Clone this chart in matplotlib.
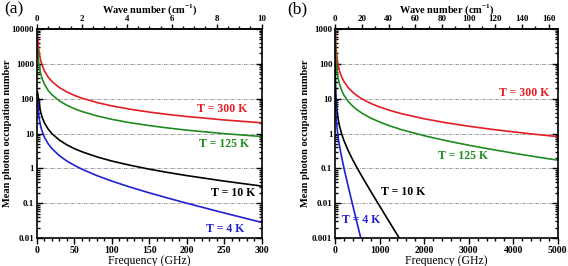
import matplotlib
matplotlib.use('Agg')
import matplotlib.pyplot as plt
from matplotlib.ticker import MultipleLocator, LogLocator, NullFormatter

plt.rcParams['font.family'] = ['Liberation Serif', 'DejaVu Serif']
plt.rcParams['mathtext.fontset'] = 'custom'
plt.rcParams['mathtext.rm'] = 'Liberation Serif:bold'
plt.rcParams['mathtext.bf'] = 'Liberation Serif:bold'

# panel (a): frequency in GHz, occupation numbers
freq_a = [1, 2, 3, 5, 7, 10, 15, 20, 30, 40, 50, 60, 80, 100, 125, 150, 175, 200, 250, 300]
n300_a = [6250, 3125, 2083, 1250, 893, 625, 416, 312, 208, 156, 124.5, 103.7, 77.6, 62.0, 49.5, 41.2, 35.2, 30.8, 24.5, 20.3]
n125_a = [2604, 1302, 868, 520, 372, 260, 173, 130, 86.3, 64.6, 51.6, 42.9, 32.1, 25.5, 20.3, 16.9, 14.4, 12.5, 9.93, 8.19]
n10_a = [150, 104, 69, 41.2, 29.3, 20.3, 13.4, 9.92, 6.46, 4.72, 3.69, 3.00, 2.14, 1.62, 1.22, 0.948, 0.760, 0.620, 0.431, 0.310]
n4_a = [83, 41.2, 27.3, 16.2, 11.4, 7.84, 5.07, 3.69, 2.31, 1.62, 1.22, 0.948, 0.620, 0.431, 0.287, 0.198, 0.140, 0.0998, 0.0524, 0.0281]

# panel (b)
freq_b = [2, 5, 10, 20, 30, 50, 75, 100, 150, 200, 300, 400, 500, 600, 800, 1000, 1250, 1500,
          2000, 2500, 3000, 3500, 4000, 4500, 5000]
n300_b = [3125, 1250, 625, 312, 208, 124.5, 82.8, 62.0, 41.2, 30.75, 20.34, 15.13, 12.01, 9.92, 7.32, 5.76, 4.52, 3.69,
          2.65, 2.03, 1.62, 1.33, 1.115, 0.948, 0.816]
n125_b = [1302, 520, 260, 130, 86.3, 51.6, 34.2, 25.5, 16.87, 12.53, 8.19, 6.02, 4.73, 3.86, 2.78, 2.14, 1.62, 1.28,
          0.866, 0.621, 0.462, 0.353, 0.274, 0.216, 0.172]
freq_b10 = [2, 5, 10, 20, 30, 50, 75, 100, 150, 200, 300, 400, 500, 600, 800, 1000, 1250, 1500]
n10_b = [104, 41.2, 20.3, 9.92, 6.46, 3.69, 2.31, 1.62, 0.948, 0.620, 0.310, 0.172, 0.0998, 0.0596, 0.0219, 0.00831,
         0.00249, 0.000748]
freq_b4 = [2, 5, 10, 20, 30, 50, 75, 100, 150, 200, 300, 400, 500, 600]
n4_b = [41.2, 16.2, 7.84, 3.69, 2.31, 1.22, 0.685, 0.431, 0.198, 0.0998, 0.0281, 0.00830, 0.00249, 0.000748]

red = '#e41e26'
green = '#1e8c1e'
blue = '#2020d0'
GHZ_PER_CM = 29.9792


def style_axes(ax, xmax, yticks, xmaj, xmin_step, wmax, wmaj, wmin, ylab_x):
    ax.set_xlim(0, xmax)
    ax.set_yscale('log')
    ax.set_ylim(yticks[0], yticks[-1])
    for s in ax.spines.values():
        s.set_linewidth(1.2)
    ax.xaxis.set_major_locator(MultipleLocator(xmaj))
    ax.xaxis.set_minor_locator(MultipleLocator(xmin_step))
    ax.set_yticks(yticks)
    ax.set_yticklabels(['%g' % v for v in yticks])
    ax.yaxis.set_minor_locator(LogLocator(base=10, subs=range(2, 10), numticks=20))
    ax.yaxis.set_minor_formatter(NullFormatter())
    ax.tick_params(axis='y', which='both', direction='in', left=True, right=True, labelsize=6.5, width=1.0, pad=2)
    ax.tick_params(axis='y', which='major', length=4)
    ax.tick_params(axis='y', which='minor', length=2.5)
    ax.tick_params(axis='x', which='both', direction='out', labelsize=7, width=1.0, pad=2)
    ax.tick_params(axis='x', which='major', length=4)
    ax.tick_params(axis='x', which='minor', length=2.5)
    for lab in ax.get_xticklabels() + ax.get_yticklabels():
        lab.set_fontweight('bold')
    ax.grid(axis='y', which='major', color='0.55', linestyle=(0, (4, 1.5, 1, 1.5)), linewidth=0.6)
    ax.set_xlabel('Frequency (GHz)', fontsize=8.5, labelpad=0)
    ax.set_ylabel('Mean photon occupation number', fontsize=7.5, fontweight='bold')
    ax.yaxis.set_label_coords(ylab_x, 0.5)

    top = ax.secondary_xaxis('top', functions=(lambda f: f / GHZ_PER_CM, lambda w: w * GHZ_PER_CM))
    top.set_xticks(list(range(0, wmax + 1, wmaj)))
    top.xaxis.set_minor_locator(MultipleLocator(wmin))
    top.tick_params(which='both', direction='out', labelsize=6.5, width=1.0, pad=1)
    top.tick_params(which='major', length=3.5)
    top.tick_params(which='minor', length=2.2)
    top.spines['top'].set_linewidth(1.2)
    for lab in top.get_xticklabels():
        lab.set_fontweight('bold')
    top.set_xlabel(r'Wave number (cm$^{-1}$)', fontsize=7.5, fontweight='bold', labelpad=1.2)
    return top


fig = plt.figure(figsize=(5.68, 2.66), dpi=100)
ax_a = fig.add_axes([0.065, 0.105, 0.396, 0.786])
ax_b = fig.add_axes([0.590, 0.105, 0.392, 0.786])

lw = 1.2
ax_a.plot(freq_a, n300_a, color=red, lw=lw)
ax_a.plot(freq_a, n125_a, color=green, lw=lw)
ax_a.plot(freq_a, n10_a, color='black', lw=lw)
ax_a.plot(freq_a, n4_a, color=blue, lw=lw)
style_axes(ax_a, 300, [0.01, 0.1, 1, 10, 100, 1000, 10000], 50, 10, 10, 2, 0.5, -0.11)

tk = dict(fontsize=8.5, fontweight='bold', ha='right', va='center')
ax_a.text(281, 50, 'T = 300 K', color=red, **tk)
ax_a.text(283, 5.0, 'T = 125 K', color=green, **tk)
ax_a.text(291, 0.195, 'T = 10 K', color='black', **tk)
ax_a.text(277, 0.018, 'T = 4 K', color=blue, **tk)

ax_b.plot(freq_b, n300_b, color=red, lw=lw)
ax_b.plot(freq_b, n125_b, color=green, lw=lw)
ax_b.plot(freq_b10, n10_b, color='black', lw=lw)
ax_b.plot(freq_b4, n4_b, color=blue, lw=lw)
style_axes(ax_b, 5000, [0.001, 0.01, 0.1, 1, 10, 100, 1000], 1000, 200, 160, 20, 10, -0.112)

ax_b.text(4798, 14.5, 'T = 300 K', color=red, **tk)
ax_b.text(3430, 0.22, 'T = 125 K', color=green, **tk)
ax_b.text(2018, 0.021, 'T = 10 K', color='black', **tk)
ax_b.text(157, 0.0032, 'T = 4 K', color=blue, fontsize=8.5, fontweight='bold', ha='left', va='center')

fig.text(0.008, 0.995, '(a)', fontsize=12.5, ha='left', va='top')
fig.text(0.506, 0.995, '(b)', fontsize=12.5, ha='left', va='top')

fig.savefig('out.png', dpi=100)
